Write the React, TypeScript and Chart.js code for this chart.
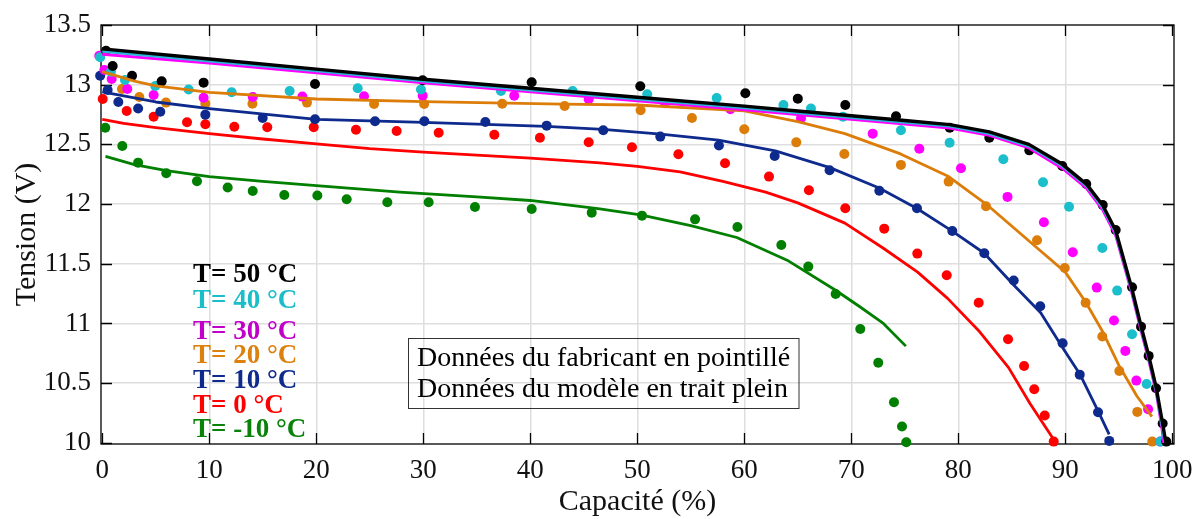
import React, { useEffect, useRef } from "react";
import { Chart, registerables } from "chart.js";

Chart.register(...registerables);

type P = [number, number];

// ---- axes ----
const xTicks = [0, 10, 20, 30, 40, 50, 60, 70, 80, 90, 100];
const yTicks = [10, 10.5, 11, 11.5, 12, 12.5, 13, 13.5];
const xTitle = "Capacité (%)";
const yTitle = "Tension (V)";

// ---- legend / note text ----
const legendLabels = ["T= 50 °C", "T= 40 °C", "T= 30 °C", "T= 20 °C", "T= 10 °C", "T= 0 °C", "T= -10 °C"];
const noteLines = ["Données du fabricant en pointillé", "Données du modèle en trait plein"];

// ---- manufacturer data (dots) ----
const dots50: P[] = [[0.35,13.285],[0.97,13.157],[2.78,13.075],[5.55,13.028],[9.47,13.017],[19.88,13.006],[29.94,13.037],[40.13,13.02],[50.28,12.987],[60.1,12.928],[65.0,12.883],[69.44,12.83],[74.18,12.735],[79.2,12.64],[82.9,12.556],[86.64,12.45],[89.72,12.319],[91.96,12.168],[93.5,11.992],[94.71,11.783],[96.24,11.303],[97.08,10.973],[97.79,10.728],[98.48,10.457],[99.1,10.161],[99.44,10.01]];
const dots40: P[] = [[-0.2,13.23],[0.81,13.109],[2.12,13.04],[4.95,12.989],[8.07,12.96],[12.09,12.936],[17.51,12.947],[23.87,12.97],[29.78,12.96],[37.26,12.947],[43.96,12.947],[50.93,12.92],[57.42,12.889],[63.66,12.83],[66.23,12.8],[69.22,12.732],[74.64,12.618],[79.19,12.514],[84.21,12.375],[87.92,12.183],[90.35,11.978],[93.46,11.632],[94.85,11.275],[96.24,10.91],[97.6,10.493],[98.88,10.01]];
const dots30: P[] = [[-0.28,13.243],[0.19,13.123],[0.88,13.048],[2.34,12.964],[4.8,12.914],[9.47,12.891],[14.06,12.897],[18.7,12.9],[24.46,12.903],[29.94,12.908],[38.5,12.908],[45.46,12.878],[52.6,12.844],[58.7,12.794],[65.3,12.719],[72.0,12.59],[76.36,12.464],[80.25,12.3],[84.6,12.06],[88.0,11.847],[90.7,11.596],[92.94,11.3],[94.55,11.024],[95.61,10.77],[96.64,10.521],[97.74,10.281],[98.88,10.01]];
const dots20: P[] = [[1.84,12.964],[3.46,12.897],[5.95,12.85],[9.63,12.841],[14.03,12.841],[19.13,12.85],[25.4,12.838],[30.08,12.838],[37.38,12.841],[43.21,12.822],[50.31,12.786],[55.11,12.721],[60.0,12.626],[64.86,12.517],[69.35,12.42],[74.64,12.328],[79.1,12.188],[82.59,11.982],[87.36,11.697],[89.95,11.465],[91.9,11.174],[93.46,10.89],[95.05,10.602],[96.73,10.259],[98.13,10.01]];
const dots10: P[] = [[-0.2,13.075],[0.5,12.956],[1.5,12.855],[3.35,12.8],[5.42,12.774],[9.63,12.749],[14.99,12.721],[19.88,12.71],[25.49,12.693],[30.1,12.693],[35.8,12.688],[41.53,12.657],[46.82,12.618],[52.15,12.565],[57.63,12.49],[62.84,12.403],[67.97,12.283],[72.62,12.112],[76.14,11.965],[79.44,11.775],[82.43,11.588],[85.18,11.359],[87.66,11.144],[89.75,10.834],[91.35,10.571],[93.06,10.256],[94.11,10.016]];
const dots0: P[] = [[0.04,12.88],[2.28,12.78],[4.8,12.732],[7.92,12.685],[9.63,12.668],[12.34,12.648],[15.42,12.643],[19.76,12.643],[23.71,12.623],[27.51,12.612],[31.44,12.598],[36.64,12.581],[40.9,12.556],[45.46,12.518],[49.5,12.476],[53.84,12.417],[58.2,12.342],[62.31,12.23],[66.04,12.116],[69.44,11.965],[73.08,11.794],[76.17,11.585],[78.92,11.404],[81.91,11.174],[84.65,10.868],[86.15,10.644],[87.1,10.449],[88.08,10.228],[88.92,10.01]];
const dotsM10: P[] = [[0.28,12.64],[1.87,12.487],[3.35,12.347],[5.98,12.258],[8.85,12.191],[11.72,12.138],[14.06,12.11],[17.01,12.076],[20.1,12.071],[22.84,12.04],[26.64,12.015],[30.5,12.015],[34.83,11.976],[40.13,11.959],[45.74,11.928],[50.44,11.903],[55.4,11.872],[59.36,11.808],[63.46,11.657],[65.98,11.476],[68.54,11.247],[70.84,10.954],[72.52,10.67],[73.99,10.34],[74.74,10.136],[75.14,10.005]];

// ---- model data (solid lines) ----
const model50: P[] = [[0,13.3],[10,13.215],[20,13.13],[30,13.045],[40,12.97],[50,12.895],[60,12.82],[65,12.78],[70,12.74],[75,12.7],[79.2,12.665],[82.9,12.605],[86.6,12.5],[89.7,12.335],[92,12.165],[93.5,11.99],[94.7,11.78],[96.2,11.3],[97.1,10.97],[97.8,10.73],[98.5,10.46],[99.1,10.16],[99.4,10.0]];
const model40: P[] = [[0,13.28],[10,13.198],[20,13.115],[30,13.03],[40,12.955],[50,12.88],[60,12.805],[65,12.765],[70,12.725],[75,12.685],[79.2,12.652],[82.9,12.59],[86.6,12.485],[89.7,12.32],[92,12.15],[93.5,11.97],[94.7,11.76],[96.2,11.28],[97.1,10.95],[97.8,10.71],[98.5,10.44],[99.05,10.14],[99.3,10.0]];
const model30: P[] = [[0,13.255],[10,13.18],[20,13.1],[30,13.015],[40,12.94],[50,12.865],[60,12.79],[65,12.75],[70,12.71],[75,12.67],[79.2,12.637],[82.9,12.575],[86.6,12.47],[89.7,12.3],[92,12.13],[93.5,11.95],[94.7,11.74],[96.2,11.26],[97.1,10.93],[97.8,10.69],[98.5,10.42],[99.0,10.14],[99.2,10.0]];
const model20: P[] = [[0,13.11],[3,13.03],[5,12.99],[10,12.935],[20,12.88],[30,12.858],[43,12.838],[50,12.83],[60,12.78],[65,12.69],[69.4,12.59],[74.6,12.42],[79.1,12.23],[82.6,12.0],[87.4,11.63],[90,11.43],[91.9,11.18],[93.5,10.93],[95,10.65],[96.7,10.39],[98.1,10.22]];
const model10: P[] = [[0,12.94],[5,12.855],[10,12.8],[20,12.71],[30,12.685],[41.5,12.65],[46.8,12.625],[52.2,12.585],[57.6,12.535],[62.9,12.445],[68,12.305],[72.6,12.135],[76.1,11.965],[79.4,11.775],[82.4,11.59],[85.2,11.32],[87.7,11.09],[89.8,10.79],[91.4,10.57],[93.1,10.26],[94.1,10.07]];
const model0: P[] = [[0,12.71],[2,12.675],[5,12.64],[10,12.59],[15,12.545],[20,12.505],[25,12.465],[30,12.435],[35,12.41],[40,12.385],[46.5,12.345],[50,12.315],[54,12.27],[58,12.19],[62,12.1],[65,12.01],[69.4,11.84],[73,11.63],[76.2,11.43],[79,11.21],[82,10.93],[84.7,10.63],[86.7,10.33],[88.9,10.03]];
const modelM10: P[] = [[0.3,12.4],[3,12.33],[6,12.28],[10,12.23],[15,12.19],[20,12.155],[27.8,12.1],[35,12.06],[40,12.03],[46.5,11.96],[50.3,11.91],[55,11.82],[59.3,11.72],[64,11.53],[68.5,11.28],[70.8,11.14],[73,11.0],[75.1,10.81]];

// ---- styles ----
const series = [
  { dots: dots50, model: model50, dot: "#000000", line: "#000000", text: "#000000", lw: 3.4, order: 1 },
  { dots: dots40, model: model40, dot: "#1BBECB", line: "#2AB5D8", text: "#1BBEC8", lw: 2.8, order: 2 },
  { dots: dots30, model: model30, dot: "#FF00FF", line: "#FF00FF", text: "#C000C8", lw: 2.8, order: 3 },
  { dots: dots20, model: model20, dot: "#DC7D0A", line: "#DC7D0A", text: "#DC800E", lw: 2.8, order: 4 },
  { dots: dots10, model: model10, dot: "#0E2A8C", line: "#0E2A8C", text: "#0E2A8C", lw: 2.8, order: 5 },
  { dots: dots0, model: model0, dot: "#FF0000", line: "#FF0000", text: "#FF0000", lw: 2.8, order: 6 },
  { dots: dotsM10, model: modelM10, dot: "#007F00", line: "#007F00", text: "#0A820A", lw: 2.8, order: 7 },
];

const FONT = '"Liberation Serif", "Times New Roman", serif';
const legendPos = { x: 193, baselines: [281.7, 308.3, 339, 363.3, 387.7, 412.7, 437.3] };
const notePos = { x: 408.5, y: 338.5, w: 390.5, h: 70, textX: 417, baselines: [366, 397] };

const decorPlugin = {
  id: "decor",
  beforeDatasetsDraw(chart: any) {
    const { ctx, chartArea: a, scales } = chart;
    const xs = scales.x;
    const ys = scales.y;
    ctx.save();
    ctx.strokeStyle = "#000";
    ctx.lineWidth = 1.3;
    ctx.beginPath();
    for (const v of xTicks) {
      const px = Math.round(xs.getPixelForValue(v)) + 0.5;
      ctx.moveTo(px, a.bottom);
      ctx.lineTo(px, a.bottom - 11);
      ctx.moveTo(px, a.top);
      ctx.lineTo(px, a.top + 11);
    }
    for (const v of yTicks) {
      const py = Math.round(ys.getPixelForValue(v)) + 0.5;
      ctx.moveTo(a.left, py);
      ctx.lineTo(a.left + 11, py);
      ctx.moveTo(a.right, py);
      ctx.lineTo(a.right - 11, py);
    }
    ctx.stroke();
    ctx.strokeRect(a.left, a.top, a.right - a.left, a.bottom - a.top);
    ctx.restore();
  },
  afterDatasetsDraw(chart: any) {
    const { ctx } = chart;
    ctx.save();
    ctx.textAlign = "left";
    ctx.textBaseline = "alphabetic";
    ctx.font = `bold 27px ${FONT}`;
    legendLabels.forEach((t, i) => {
      ctx.fillStyle = series[i].text;
      ctx.fillText(t, legendPos.x, legendPos.baselines[i]);
    });
    ctx.strokeStyle = "#333";
    ctx.lineWidth = 1;
    ctx.strokeRect(notePos.x, notePos.y, notePos.w, notePos.h);
    ctx.fillStyle = "#000";
    ctx.font = `28px ${FONT}`;
    noteLines.forEach((t, i) => ctx.fillText(t, notePos.textX, notePos.baselines[i]));
    ctx.restore();
  },
};

export default function App() {
  const ref = useRef<HTMLCanvasElement | null>(null);
  useEffect(() => {
    if (!ref.current) return;
    const datasets: any[] = [];
    series.forEach((s) => {
      datasets.push({
        data: s.dots.map(([x, y]) => ({ x, y })),
        showLine: false,
        pointRadius: 5,
        pointBorderWidth: 0,
        pointBackgroundColor: s.dot,
        backgroundColor: s.dot,
        borderColor: s.dot,
        order: 20 + s.order,
        clip: false,
      });
    });
    series.forEach((s) => {
      datasets.push({
        data: s.model.map(([x, y]) => ({ x, y })),
        showLine: true,
        pointRadius: 0,
        borderColor: s.line,
        borderWidth: s.lw,
        borderJoinStyle: "round",
        borderCapStyle: "butt",
        tension: 0,
        order: s.order,
      });
    });
    const chart = new Chart(ref.current, {
      type: "scatter",
      data: { datasets },
      options: {
        animation: false,
        responsive: false,
        devicePixelRatio: 1,
        layout: { padding: { top: 25, right: 23, left: 0, bottom: 0 } },
        plugins: { legend: { display: false }, tooltip: { enabled: false } },
        events: [],
        scales: {
          x: {
            type: "linear",
            min: -0.12,
            max: 100.16,
            afterBuildTicks: (scale: any) => {
              scale.ticks = xTicks.map((v) => ({ value: v }));
            },
            afterFit: (scale: any) => {
              scale.height = 75;
              scale.paddingLeft = 0;
              scale.paddingRight = 0;
            },
            border: { display: false },
            grid: {
              drawTicks: false,
              lineWidth: 1.5,
              color: (c: any) =>
                c.tick && (c.tick.value === 0 || c.tick.value === 100) ? "rgba(0,0,0,0)" : "#dedede",
            },
            ticks: {
              autoSkip: false,
              maxRotation: 0,
              padding: 13,
              color: "#111",
              font: { family: FONT, size: 27, lineHeight: 1 },
              callback: (v: any) => String(v),
            },
            title: {
              display: true,
              text: xTitle,
              color: "#111",
              font: { family: FONT, size: 30, lineHeight: 1 },
              padding: { top: 0, bottom: 2 },
            },
          },
          y: {
            type: "linear",
            min: 9.99,
            max: 13.5,
            afterBuildTicks: (scale: any) => {
              scale.ticks = yTicks.map((v) => ({ value: v }));
            },
            afterFit: (scale: any) => {
              scale.width = 101;
              scale.paddingTop = 0;
              scale.paddingBottom = 0;
            },
            border: { display: false },
            grid: {
              drawTicks: false,
              lineWidth: 1.5,
              color: (c: any) =>
                c.tick && (c.tick.value === 10 || c.tick.value === 13.5) ? "rgba(0,0,0,0)" : "#dedede",
            },
            ticks: {
              autoSkip: false,
              padding: 10,
              color: "#111",
              font: { family: FONT, size: 27, lineHeight: 1 },
              callback: (v: any) => String(v),
            },
            title: {
              display: true,
              text: yTitle,
              color: "#111",
              font: { family: FONT, size: 30, lineHeight: 1 },
              padding: { top: 12, bottom: 0 },
            },
          },
        },
      },
      plugins: [decorPlugin],
    });
    return () => chart.destroy();
  }, []);
  return (
    <div style={{ position: "fixed", left: 0, top: 0, width: 1197, height: 519, background: "#fff" }}>
      <canvas ref={ref} width={1197} height={519} style={{ display: "block", width: 1197, height: 519 }} />
    </div>
  );
}
